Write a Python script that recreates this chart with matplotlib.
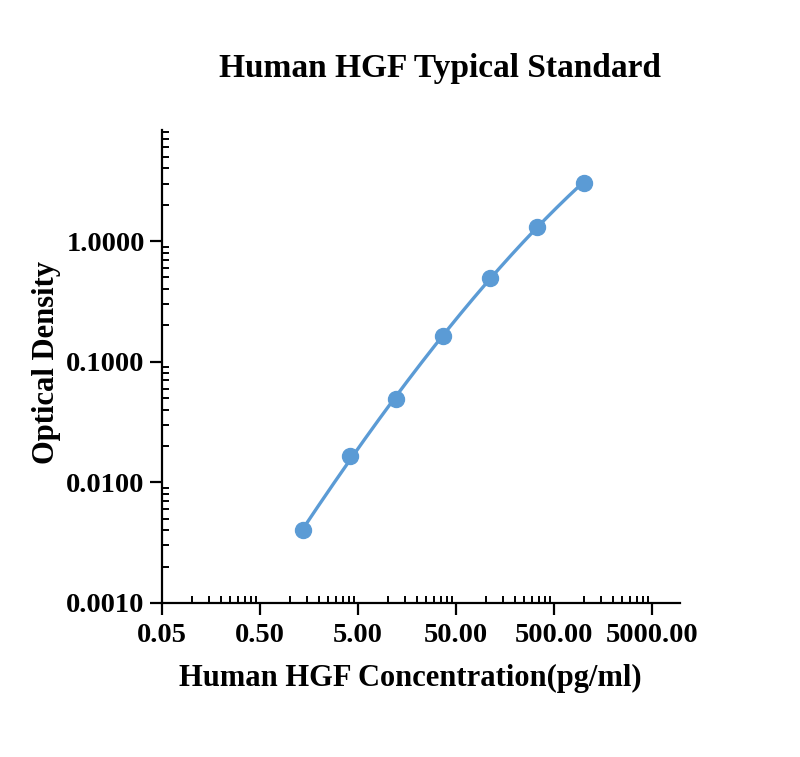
import numpy as np
import matplotlib
matplotlib.use("Agg")
import matplotlib.pyplot as plt
from matplotlib.ticker import FixedLocator, FixedFormatter, NullFormatter

# Data
conc = [1.37, 4.12, 12.35, 37.04, 111.1, 333.3, 1000.0]
od = [0.0040, 0.0166, 0.0490, 0.164, 0.495, 1.31, 3.05]
x_ticks = [0.05, 0.5, 5, 50, 500, 5000]
x_tick_labels = ["0.05", "0.50", "5.00", "50.00", "500.00", "5000.00"]
y_ticks = [0.001, 0.01, 0.1, 1.0]
y_tick_labels = ["0.0010", "0.0100", "0.1000", "1.0000"]

plt.rcParams['font.family'] = ['Liberation Serif', 'DejaVu Serif']
plt.rcParams['font.weight'] = 'bold'

fig = plt.figure(figsize=(8, 7.57), dpi=100)
ax = fig.add_axes([162/800, 1-603/757, (680-162)/800, (603-130)/757])

color = '#5B9BD5'
lx = np.log10(conc)
ly = np.log10(od)
coef = np.polyfit(lx, ly, 3)
xs = np.linspace(lx[0], lx[-1], 200)
ax.plot(10**xs, 10**np.polyval(coef, xs), color=color, lw=2.4, zorder=2)
ax.plot(conc, od, 'o', color=color, ms=11.5, zorder=3)

ax.set_xscale('log')
ax.set_yscale('log')
ax.set_xlim(0.05, 10**(np.log10(0.05) + (680-162)/98))
ax.set_ylim(0.001, 10**(np.log10(1.0) + (241-130)/120.5))

ax.xaxis.set_major_locator(FixedLocator(x_ticks))
ax.xaxis.set_major_formatter(FixedFormatter(x_tick_labels))
xminor = [k * 0.05 * 10**n for n in range(0, 5) for k in range(2, 10)]
ax.xaxis.set_minor_locator(FixedLocator(xminor))
ax.xaxis.set_minor_formatter(NullFormatter())

ax.yaxis.set_major_locator(FixedLocator(y_ticks))
ax.yaxis.set_major_formatter(FixedFormatter(y_tick_labels))
yminor = [k * 10**n for n in range(-3, 1) for k in range(2, 10)]
ax.yaxis.set_minor_locator(FixedLocator(yminor))
ax.yaxis.set_minor_formatter(NullFormatter())

for s in ['top', 'right']:
    ax.spines[s].set_visible(False)
for s in ['left', 'bottom']:
    ax.spines[s].set_linewidth(1.6)

ax.tick_params(axis='both', which='major', direction='out', length=8.5, width=1.6,
               labelsize=20.5)
ax.tick_params(axis='x', which='major', pad=6)
ax.tick_params(axis='y', which='major', pad=4)
ax.tick_params(axis='both', which='minor', direction='in', length=5, width=1.4)
for lab in ax.get_xticklabels() + ax.get_yticklabels():
    lab.set_fontweight('bold')

fig.text(440/800, 1-68/757, "Human HGF Typical Standard", ha='center', va='center',
         fontsize=24, fontweight='bold')
fig.text(410/800, 1-678/757, "Human HGF Concentration(pg/ml)", ha='center', va='center',
         fontsize=22, fontweight='bold')
fig.text(47/800, 1-363/757, "Optical Density", ha='center', va='center',
         fontsize=22, fontweight='bold', rotation=90)

fig.savefig("out.png", dpi=100, facecolor='white')
